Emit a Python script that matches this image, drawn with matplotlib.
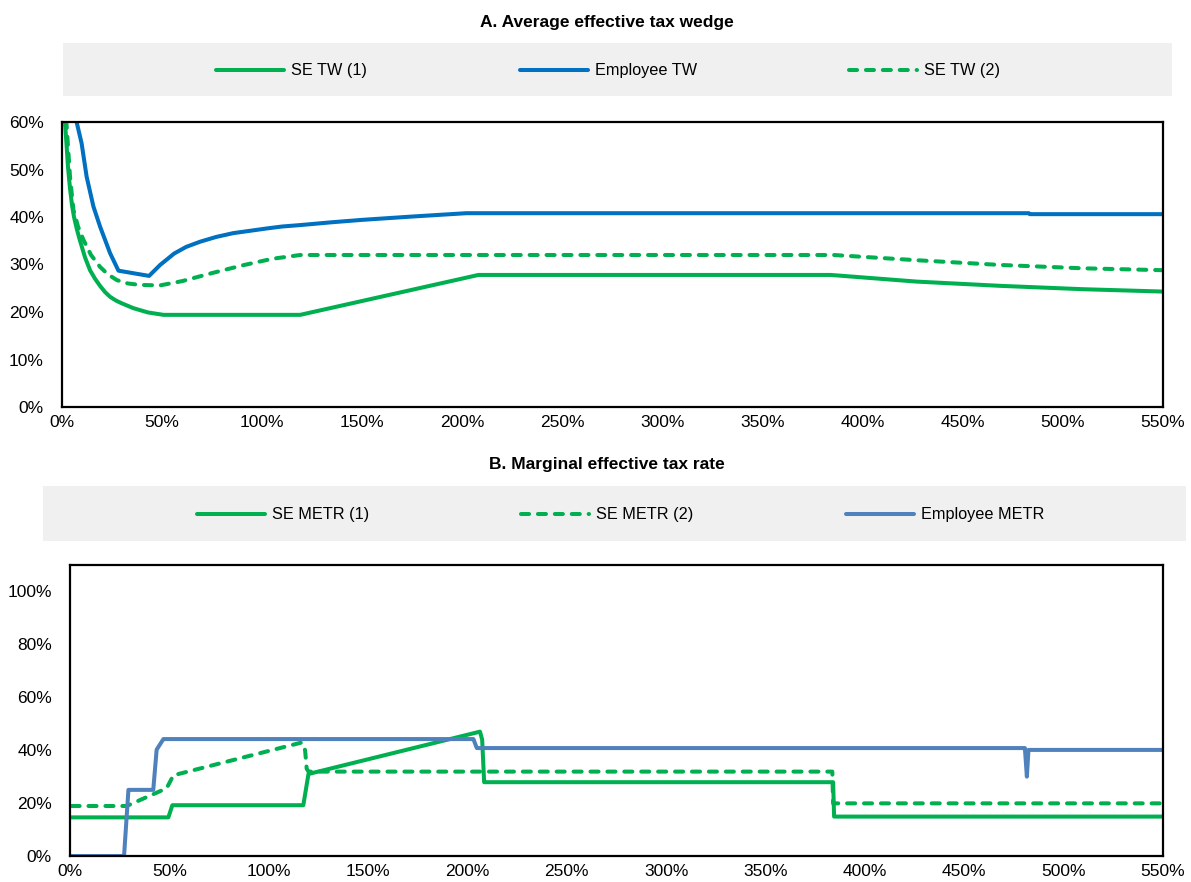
import matplotlib
matplotlib.use("Agg")
import matplotlib.pyplot as plt
from matplotlib.lines import Line2D
from matplotlib.patches import Rectangle
from matplotlib.ticker import FuncFormatter

plt.rcParams['font.family'] = ['Liberation Sans', 'DejaVu Sans']

# ---------------- Panel A: average effective tax wedge (x: % of average wage) ----------------
tw_se1_x = [1.0, 1.5, 2.3, 3.0, 4.0, 5.0, 6.0, 7.5, 9.0, 11.5, 14.0, 16.5, 19.0,
            21.5, 24.0, 27.0, 30.0, 35.7, 43.0, 50.7,
            119.0, 208.0, 384.0, 427.0, 469.0, 510.0, 550.0]
tw_se1_y = [64.0, 60.0, 55.0, 50.5, 46.0, 42.5, 40.0, 37.3, 35.0, 31.5, 28.8, 27.0, 25.5,
            24.2, 23.2, 22.4, 21.8, 20.8, 19.9, 19.4,
            19.4, 27.8, 27.8, 26.4, 25.5, 24.8, 24.3]

tw_emp_x = [6.5, 7.3, 9.8, 12.3, 15.7, 19.0, 24.0, 28.2, 43.5, 49.0, 56.0, 62.0,
            69.0, 77.0, 85.5, 94.0, 102.5, 110.0, 119.0, 135.0, 150.0, 175.0,
            202.0, 483.0, 483.5, 550.0]
tw_emp_y = [63.0, 60.0, 55.5, 48.5, 42.2, 38.0, 32.4, 28.7, 27.6, 29.9, 32.3, 33.7,
            34.8, 35.8, 36.6, 37.1, 37.6, 38.0, 38.3, 38.9, 39.4, 40.1,
            40.8, 40.8, 40.6, 40.6]

tw_se2_x = [1.5, 2.5, 4.0, 5.7, 8.0, 10.7, 14.5, 19.0, 23.0, 27.5, 33.0, 39.0,
            49.0, 60.0, 75.0, 90.0, 105.0, 119.0, 385.5, 427.0, 469.0, 510.0, 550.0]
tw_se2_y = [64.0, 58.0, 48.5, 41.5, 38.0, 35.2, 32.0, 29.5, 27.9, 26.7, 26.0, 25.7,
            25.6, 26.5, 28.2, 29.8, 31.2, 32.0, 32.0, 30.9, 29.9, 29.2, 28.8]

# ---------------- Panel B: marginal effective tax rate ----------------
metr_se1_x = [0.0, 49.5, 51.5, 117.4, 120.0, 206.3, 207.4, 208.4, 384.0, 384.5, 550.0]
metr_se1_y = [14.6, 14.6, 19.2, 19.2, 31.0, 47.0, 44.0, 27.9, 27.9, 14.9, 14.9]

metr_se2_x = [0.8, 28.5, 48.6, 50.3, 52.0, 116.6, 118.3, 119.1, 120.0, 383.6, 384.0, 550.0]
metr_se2_y = [18.9, 18.9, 25.6, 28.0, 30.5, 42.9, 40.0, 33.0, 31.9, 31.9, 19.9, 19.9]

metr_emp_x = [0.0, 27.2, 29.4, 41.9, 43.6, 47.0, 203.0, 204.7, 480.5, 481.5, 482.3, 550.0]
metr_emp_y = [0.0, 0.0, 25.0, 25.0, 40.2, 44.2, 44.2, 40.8, 40.8, 30.0, 40.1, 40.1]

# ---------------- axis settings ----------------
x_ticks = list(range(0, 551, 50))
ticks_a = list(range(0, 61, 10))
ticks_b = list(range(0, 101, 20))

title_a = "A. Average effective tax wedge"
title_b = "B. Marginal effective tax rate"

GREEN = '#00B050'
BLUE = '#0070C0'
STEEL = '#4F81BD'
KEY_BG = '#F0F0F0'

W, H = 1191, 882
fig = plt.figure(figsize=(W / 100, H / 100), dpi=100)


def rect(l, t, r, b):
    return [l / W, 1 - b / H, (r - l) / W, (b - t) / H]


DASH = (0, (2.0, 2.2))
LW = 2.9

series_a = [
    (tw_se1_x, tw_se1_y, "SE TW (1)", GREEN, '-'),
    (tw_emp_x, tw_emp_y, "Employee TW", BLUE, '-'),
    (tw_se2_x, tw_se2_y, "SE TW (2)", GREEN, DASH),
]
series_b = [
    (metr_se1_x, metr_se1_y, "SE METR (1)", GREEN, '-'),
    (metr_se2_x, metr_se2_y, "SE METR (2)", GREEN, DASH),
    (metr_emp_x, metr_emp_y, "Employee METR", STEEL, '-'),
]


def pct(v, _):
    return f"{v:.0f}%"


def style_axis(ax, yticks, ylim):
    ax.set_xlim(0, 550)
    ax.set_ylim(*ylim)
    ax.set_xticks(x_ticks)
    ax.set_yticks(yticks)
    ax.xaxis.set_major_formatter(FuncFormatter(pct))
    ax.yaxis.set_major_formatter(FuncFormatter(pct))
    ax.tick_params(axis='both', length=0, labelsize=12.5, colors='#000000')
    ax.tick_params(axis='y', pad=13)
    ax.tick_params(axis='x', pad=6)
    for sp in ax.spines.values():
        sp.set_linewidth(1.6)
        sp.set_color('black')
    ax.set_facecolor('white')


def draw_series(ax, series):
    for xs, ys, label, color, ls in series:
        ax.plot(xs, ys, color=color, lw=LW, linestyle=ls, label=label,
                solid_joinstyle='round', dash_capstyle='round',
                dash_joinstyle='round')


def draw_key(series, box, y, starts):
    l, t, r, b = box
    fig.add_artist(Rectangle((l / W, 1 - b / H), (r - l) / W, (b - t) / H,
                             transform=fig.transFigure, facecolor=KEY_BG,
                             edgecolor='none', zorder=0))
    for (xs, ys, label, color, ls), x0 in zip(series, starts):
        fig.add_artist(Line2D([x0 / W, (x0 + 68) / W], [1 - y / H, 1 - y / H],
                              transform=fig.transFigure, color=color, lw=LW,
                              linestyle=ls, solid_capstyle='round',
                              dash_capstyle='round'))
        fig.text((x0 + 75) / W, 1 - y / H, label, ha='left', va='center',
                 fontsize=11.7)


# Panel A
fig.text(607 / W, 1 - 22 / H, title_a, ha='center', va='center',
         fontsize=12.5, fontweight='bold')
draw_key(series_a, (63, 43, 1172, 96), 70, [216, 520, 849])
axA = fig.add_axes(rect(62, 122, 1163, 407))
draw_series(axA, series_a)
style_axis(axA, ticks_a, (0, 60))

# Panel B
fig.text(607 / W, 1 - 465 / H, title_b, ha='center', va='center',
         fontsize=12.5, fontweight='bold')
draw_key(series_b, (43, 486, 1186, 541), 514, [197, 521, 846])
axB = fig.add_axes(rect(70, 565, 1163, 856))
draw_series(axB, series_b)
style_axis(axB, ticks_b, (0, 110))

fig.savefig("out.png", dpi=100, facecolor='white')
